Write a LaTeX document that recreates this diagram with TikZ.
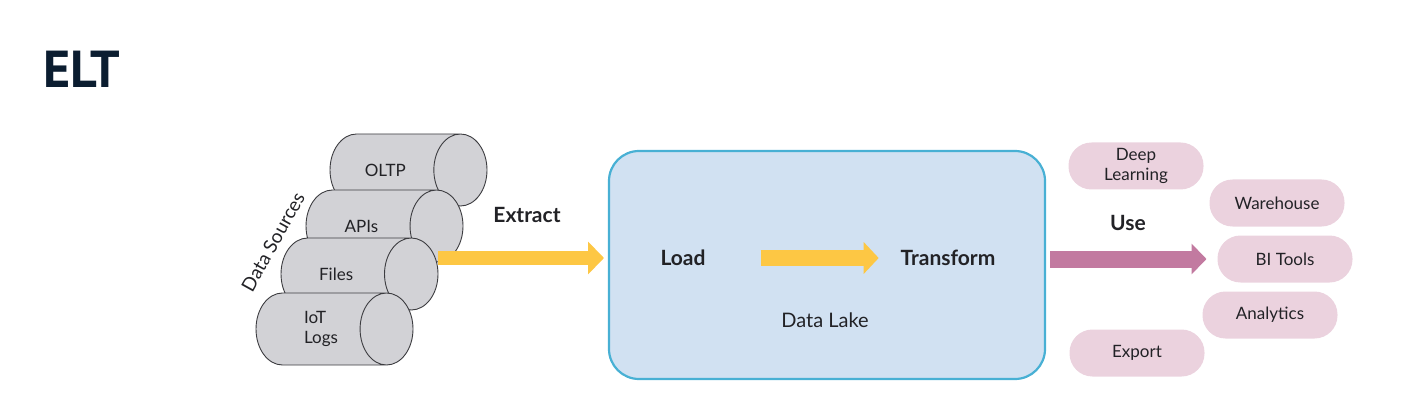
\documentclass[tikz,border=0pt]{standalone}
\usepackage{fontspec}
\setmainfont{Lato}
\newfontfamily\titlefont{PT Sans}
\usetikzlibrary{positioning}
\usetikzlibrary{arrows.meta}
\usetikzlibrary{shapes.geometric}

\definecolor{txtdark}{RGB}{34,34,38}
\definecolor{titlenavy}{RGB}{11,29,48}
\definecolor{srcgray}{RGB}{210,210,214}
\definecolor{srcline}{RGB}{60,60,64}
\definecolor{lakefill}{RGB}{209,225,242}
\definecolor{lakeline}{RGB}{72,176,212}
\definecolor{flowyellow}{RGB}{253,199,68}
\definecolor{usepink}{RGB}{194,122,160}
\definecolor{usefill}{RGB}{235,210,222}

\begin{document}
\begin{tikzpicture}
[
x=1pt, y=-1pt,
% 文字の設定
every node/.style={inner sep=0, outer sep=0, text=txtdark},
% データソース（円柱）
source/.style={cylinder, draw=srcline, fill=srcgray, line width=0.9pt,
minimum height=157pt, minimum width=72pt, aspect=1.5, inner ysep=11.5pt,
anchor=west, font=\fontsize{17}{20}\selectfont},
% 太い矢印
bigarrow/.style={line width=14pt, draw=flowyellow,
-{Triangle[length=16pt, width=32pt]}},
% 用途（角丸）
usage/.style={rectangle, rounded corners=23pt, fill=usefill,
minimum width=135pt, minimum height=47pt, align=center,
font=\fontsize{17}{20}\selectfont},
% 見出し
label/.style={font=\bfseries\fontsize{21}{24}\selectfont}
]
\useasboundingbox (0,0) rectangle (1423,414);

% タイトル
\node [anchor=base west, text=titlenavy,
font=\titlefont\bfseries\fontsize{52}{60}\selectfont] (elt) at (43,88) {ELT};

% データソース
\node [source] (oltp) at (330,170) {OLTP};
\node [source] (apis) at (306,226) {APIs};
\node [source] (files) at (281,274) {Files};
\node [source, align=left, inner ysep=0pt] (iot) at (256,329) {IoT\\Logs};
\node [rotate=61, font=\fontsize{19}{22}\selectfont] (srcs) at (273,242) {Data Sources};

% データレイク
\node [rectangle, rounded corners=30pt, draw=lakeline, line width=2.2pt,
fill=lakefill, minimum width=436pt, minimum height=228pt] (lake) at (827,265) {};
\node [label] (load) at (683,258) {Load};
\node [label] (transform) at (948,258) {Transform};
\node [font=\fontsize{20}{24}\selectfont] (lakename) at (825,320) {Data Lake};

% 用途
\node [usage] (deep) at (1136,166) {Deep\\Learning};
\node [usage] (wh) at (1277,203) {Warehouse};
\node [usage] (bi) at (1285,259) {BI Tools};
\node [usage] (ana) at (1270,315) {Analytics};
\node [usage] (export) at (1137,353) {Export};

% ラベル
\node [label] (extract) at (527,215) {Extract};
\node [label] (use) at (1128,223) {Use};

% 矢印
\draw [bigarrow] (files.east |- load) -- ([xshift=-5pt]lake.west |- load);
\draw [bigarrow, line width=16pt, -{Triangle[length=15pt, width=31pt]},
shorten <=55pt, shorten >=22pt] (load) -- (transform);
\draw [bigarrow, line width=17pt, draw=usepink, -{Triangle[length=15pt, width=30pt]},
shorten <=5pt, shorten >=11pt] (lake.east |- bi) -- (bi.west);
\end{tikzpicture}
\end{document}
